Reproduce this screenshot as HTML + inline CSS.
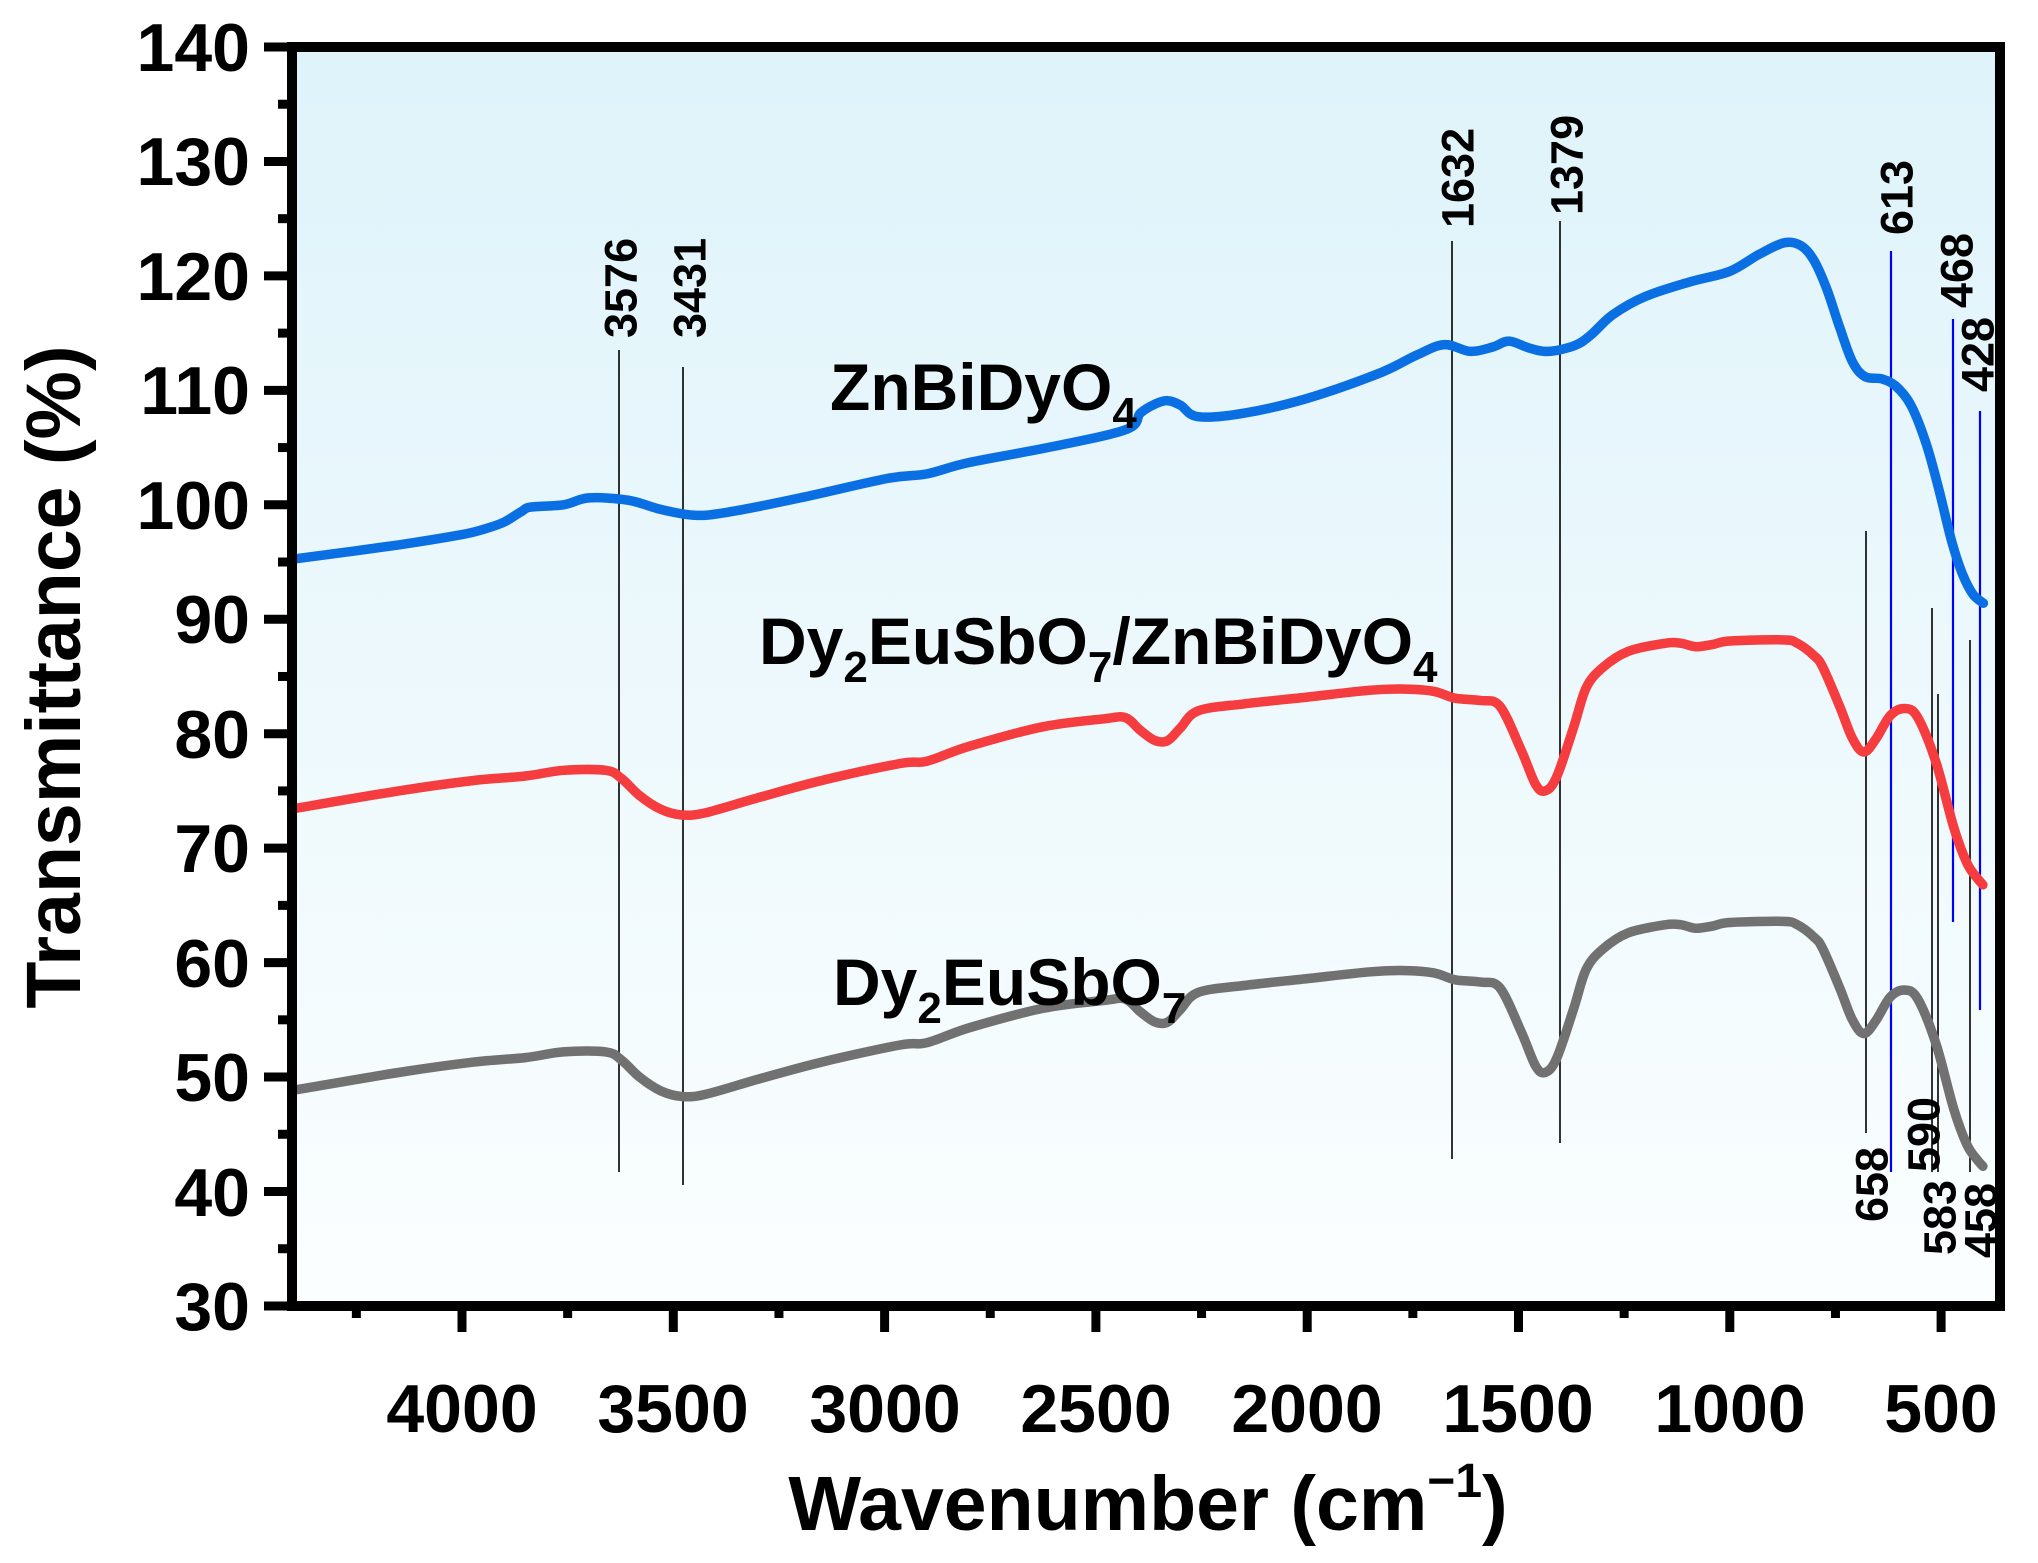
<!DOCTYPE html>
<html><head><meta charset="utf-8"><style>
html,body{margin:0;padding:0;background:#fff}
svg{display:block}
text{font-family:"Liberation Sans",Arial,sans-serif;font-weight:bold;fill:#000}
</style></head><body>
<svg id="s" width="2038" height="1563" viewBox="0 0 2038 1563" xmlns="http://www.w3.org/2000/svg">
<defs><linearGradient id="bg" x1="0" y1="0" x2="0" y2="1">
<stop offset="0" stop-color="#def3fa"/><stop offset="1" stop-color="#fbfeff"/></linearGradient></defs>
<rect x="292" y="47" width="1708" height="1259" fill="url(#bg)"/>
<g id="vl" stroke-width="1.6"></g>
<g id="curves" fill="none" stroke-width="9.5" stroke-linejoin="round" stroke-linecap="round"></g>
<g id="ticks" stroke="#000"></g>
<rect x="292" y="47" width="1708" height="1259" fill="none" stroke="#000" stroke-width="10"/>
<g font-size="68" text-anchor="end">
<text x="250" y="71">140</text><text x="250" y="185">130</text><text x="250" y="300">120</text>
<text x="250" y="414">110</text><text x="250" y="529">100</text><text x="250" y="643">90</text>
<text x="250" y="758">80</text><text x="250" y="872">70</text><text x="250" y="987">60</text>
<text x="250" y="1101">50</text><text x="250" y="1216">40</text><text x="250" y="1330">30</text>
</g>
<g font-size="68" text-anchor="middle">
<text x="462" y="1432">4000</text><text x="673" y="1432">3500</text><text x="885" y="1432">3000</text>
<text x="1096" y="1432">2500</text><text x="1307" y="1432">2000</text><text x="1518" y="1432">1500</text>
<text x="1730" y="1432">1000</text><text x="1941" y="1432">500</text>
</g>
<text x="1148" y="1530" font-size="77" text-anchor="middle">Wavenumber (cm<tspan font-size="48" dy="-33">−1</tspan><tspan dy="33">)</tspan></text>
<text transform="translate(80,677) rotate(-90)" font-size="77" text-anchor="middle">Transmittance (%)</text>
<g font-size="66">
<text x="830" y="410">ZnBiDyO<tspan font-size="44" dy="18">4</tspan></text>
<text x="759" y="664">Dy<tspan font-size="44" dy="18">2</tspan><tspan dy="-18">EuSbO</tspan><tspan font-size="44" dy="18">7</tspan><tspan dy="-18">/ZnBiDyO</tspan><tspan font-size="44" dy="18">4</tspan></text>
<text x="833" y="1005">Dy<tspan font-size="44" dy="18">2</tspan><tspan dy="-18">EuSbO</tspan><tspan font-size="44" dy="18">7</tspan></text>
</g>
<g id="lbl" font-size="45"></g>
</svg>
<script>
var NS="http://www.w3.org/2000/svg";
function X(w){return 462+(4000-w)*0.4226;}
function Y(t){return 47+(140-t)*11.445;}
function el(p,n,a){var e=document.createElementNS(NS,n);for(var k in a)e.setAttribute(k,a[k]);p.appendChild(e);return e;}
function path(pts){
 var P=pts.map(function(p){return [X(p[0]),Y(p[1])];});
 var d="M"+P[0][0].toFixed(1)+","+P[0][1].toFixed(1);
 for(var i=0;i<P.length-1;i++){
  var p0=P[Math.max(i-1,0)],p1=P[i],p2=P[i+1],p3=P[Math.min(i+2,P.length-1)];
  var c1=[p1[0]+(p2[0]-p0[0])/6,p1[1]+(p2[1]-p0[1])/6],c2=[p2[0]-(p3[0]-p1[0])/6,p2[1]-(p3[1]-p1[1])/6];
  d+="C"+c1[0].toFixed(1)+","+c1[1].toFixed(1)+" "+c2[0].toFixed(1)+","+c2[1].toFixed(1)+" "+p2[0].toFixed(1)+","+p2[1].toFixed(1);
 }
 return d;
}
var blue=[[4390,95.3],[4150,96.5],[4000,97.4],[3945,97.9],[3900,98.5],[3860,99.4],[3837,99.8],[3760,100],[3700,100.6],[3607,100.4],[3530,99.6],[3454,99.1],[3380,99.3],[3200,100.6],[2994,102.3],[2900,102.7],[2800,103.7],[2600,105.1],[2427,106.6],[2395,108],[2360,108.8],[2330,109.1],[2300,108.7],[2258,107.7],[2150,108],[2000,109.3],[1829,111.5],[1740,113.1],[1675,114],[1614,113.4],[1560,113.8],[1522,114.3],[1475,113.7],[1430,113.4],[1368,113.9],[1330,114.8],[1277,116.6],[1200,118.2],[1092,119.5],[1000,120.4],[930,121.9],[870,122.9],[830,122.6],[800,121.3],[770,118.8],[740,115.5],[710,112.5],[680,111.2],[640,111],[605,110.3],[570,108.6],[535,105.3],[505,101.3],[475,96.8],[450,94],[425,92.2],[400,91.4]];
var red=[[4390,73.5],[4150,75],[3975,75.9],[3850,76.3],[3760,76.8],[3660,76.8],[3623,76.1],[3580,74.6],[3530,73.4],[3480,72.9],[3423,73.1],[3300,74.4],[3150,75.9],[2963,77.4],[2900,77.6],[2800,78.9],[2626,80.6],[2480,81.3],[2430,81.4],[2395,80.3],[2360,79.4],[2330,79.4],[2300,80.5],[2258,82],[2150,82.6],[2000,83.2],[1850,83.8],[1767,83.9],[1700,83.7],[1650,83.1],[1590,82.9],[1544,82.4],[1494,78.6],[1460,75.6],[1437,75],[1410,76.2],[1370,80.5],[1340,84],[1300,85.8],[1240,87.2],[1153,87.9],[1115,87.9],[1080,87.6],[1040,87.8],[1000,88.1],[874,88.2],[840,87.9],[800,86.8],[780,85.8],[739,82.3],[710,79.6],[683,78.4],[655,79.5],[620,81.6],[585,82.2],[555,81.4],[512,77.5],[470,71.8],[439,68.7],[415,67.4],[401,66.8]];
var gray=red.map(function(p){return [p[0],p[1]-24.6];});
gray[gray.length-1][1]=42.2;
var cg=document.getElementById("curves");
el(cg,"path",{d:path(gray),stroke:"#717171"});
el(cg,"path",{d:path(red),stroke:"#f53c3f"});
el(cg,"path",{d:path(blue),stroke:"#0a6fe2"});
var tg=document.getElementById("ticks");
for(var v=30;v<=140;v+=5){var y=Y(v);el(tg,"line",{x1:(v%10==0?264:278),x2:292,y1:y,y2:y,"stroke-width":9});}
for(var w=4250;w>=500;w-=250){var x=X(w);el(tg,"line",{x1:x,x2:x,y1:1306,y2:(w%500==0?1332:1318),"stroke-width":9});}
var vg=document.getElementById("vl");
var L=[[619,350,1172,"#000"],[683,367,1185,"#000"],[1452,241,1159,"#000"],[1560,221,1143,"#000"],[1891,251,1172,"#0000ff"],[1953,319,922,"#0000ff"],[1980,411,1010,"#0000ff"],[1866,531,1133,"#000"],[1932,608,1172,"#000"],[1938,694,1172,"#000"],[1970,640,1172,"#000"]];
L.forEach(function(l){el(vg,"line",{x1:l[0],x2:l[0],y1:l[1],y2:l[2],stroke:l[3],"stroke-width":l[3]=="#000"?1.6:2.2});});
var lg=document.getElementById("lbl");
var T=[["3576",621,338],["3431",690,338],["1632",1458,228],["1379",1567,215],["613",1897,235],["468",1957,308],["428",1978,392],["658",1872,1222],["590",1924,1172],["583",1940,1255],["458",1981,1258]];
T.forEach(function(t){var e=el(lg,"text",{transform:"translate("+t[1]+","+t[2]+") rotate(-90)","dominant-baseline":"central"});e.textContent=t[0];});
</script>
</body></html>
